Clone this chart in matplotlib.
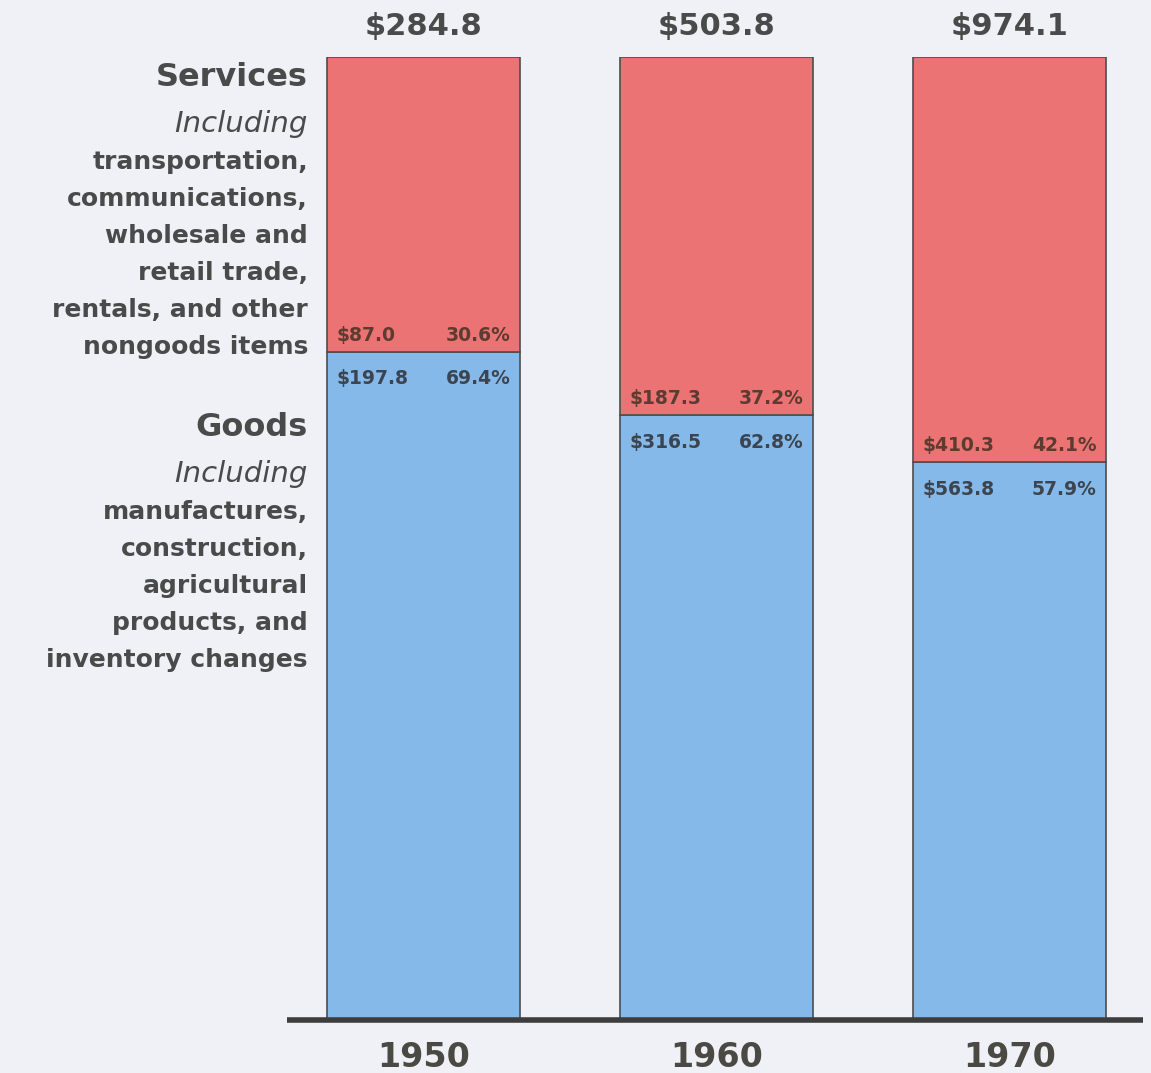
import matplotlib.pyplot as plt

years = ['1950', '1960', '1970']
totals = [284.8, 503.8, 974.1]
goods = [197.8, 316.5, 563.8]
services = [87.0, 187.3, 410.3]
goods_pct = [69.4, 62.8, 57.9]
services_pct = [30.6, 37.2, 42.1]

services_lines = ['transportation,', 'communications,', 'wholesale and',
                  'retail trade,', 'rentals, and other', 'nongoods items']
goods_lines = ['manufactures,', 'construction,', 'agricultural',
               'products, and', 'inventory changes']

W, H = 1151, 1073
bg = '#eff1f6'
red = '#ec7373'
blue = '#84b9e9'
txt = '#4a4a4a'

fig = plt.figure(figsize=(W / 100, H / 100), dpi=100, facecolor=bg)
ax = fig.add_axes([287 / W, (H - 1020) / H, 856 / W, 963 / H])
ax.set_facecolor(bg)

x = range(len(years))
ax.bar(x, goods_pct, width=0.66, color=blue, edgecolor='#4d4d4d', linewidth=1.2)
ax.bar(x, services_pct, bottom=goods_pct, width=0.66, color=red,
       edgecolor='#4d4d4d', linewidth=1.2)

ax.set_xlim(-0.466, 2.456)
ax.set_ylim(0, 100)
ax.axhline(0, color='#3d3d3d', linewidth=4, solid_capstyle='butt', clip_on=False)
for s in ax.spines.values():
    s.set_visible(False)
ax.set_xticks([])
ax.set_yticks([])

half = 0.33
for i in x:
    # total above each bar
    ax.annotate(f'${totals[i]:.1f}', (i, 100), xytext=(0, 22), textcoords='offset points',
                ha='center', va='center', fontsize=22, fontweight='bold',
                family='DejaVu Sans', color=txt, annotation_clip=False)
    # year under the baseline
    ax.annotate(years[i], (i, 0), xytext=(0, -27), textcoords='offset points',
                ha='center', va='center', fontsize=24, fontweight='bold',
                family='DejaVu Sans', color='#4b4944', annotation_clip=False)
    # services values just above the split, goods values just below
    b = goods_pct[i]
    kw = dict(textcoords='offset points', va='center', fontsize=13.5,
              fontweight='bold', family='DejaVu Sans')
    ax.annotate(f'${services[i]:.1f}', (i - half, b), xytext=(7, 12),
                ha='left', color='#5c3b30', **kw)
    ax.annotate(f'{services_pct[i]:.1f}%', (i + half, b), xytext=(-7, 12),
                ha='right', color='#5c3b30', **kw)
    ax.annotate(f'${goods[i]:.1f}', (i - half, b), xytext=(7, -19.5),
                ha='left', color='#3c4450', **kw)
    ax.annotate(f'{goods_pct[i]:.1f}%', (i + half, b), xytext=(-7, -19.5),
                ha='right', color='#3c4450', **kw)


def side_block(title, lines, y0):
    xr = 308 / W
    fig.text(xr, 1 - y0 / H, title, ha='right', va='center', fontsize=23,
             fontweight='bold', family='DejaVu Sans', color=txt)
    fig.text(xr, 1 - (y0 + 46) / H, 'Including', ha='right', va='center',
             fontsize=21, style='italic', family='DejaVu Sans', color=txt)
    for k, line in enumerate(lines):
        fig.text(xr, 1 - (y0 + 84 + 37 * k) / H, line, ha='right', va='center',
                 fontsize=18, fontweight='bold', family='DejaVu Sans', color=txt)


side_block('Services', services_lines, 78)
side_block('Goods', goods_lines, 428)

fig.savefig('out.png', dpi=100, facecolor=bg)
